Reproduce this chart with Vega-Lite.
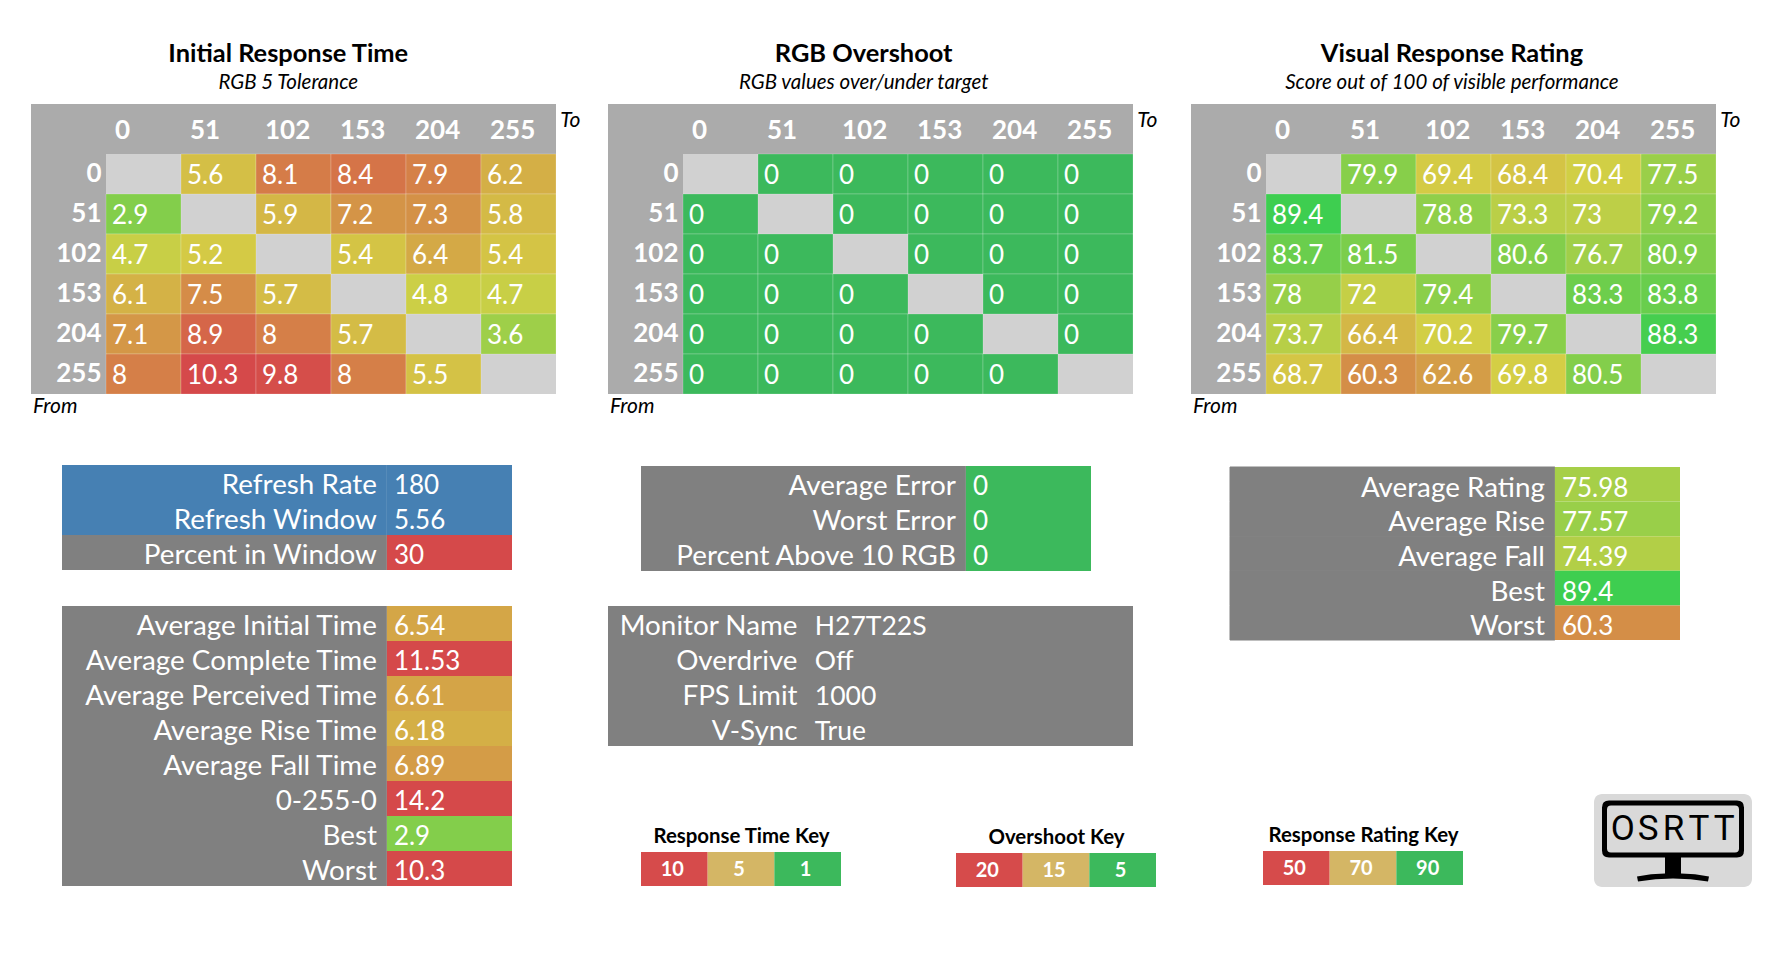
{"$schema":"https://vega.github.io/schema/vega-lite/v6.json","width":1784,"height":962,"padding":0,"autosize":{"type":"fit","contains":"padding"},"background":"#FFFFFF","config":{"view":{"stroke":null},"font":"Lato","text":{"font":"Lato"}},"datasets":{"rt":[{"from":"0","to":"0","v":null},{"from":"0","to":"51","v":5.6},{"from":"0","to":"102","v":8.1},{"from":"0","to":"153","v":8.4},{"from":"0","to":"204","v":7.9},{"from":"0","to":"255","v":6.2},{"from":"51","to":"0","v":2.9},{"from":"51","to":"51","v":null},{"from":"51","to":"102","v":5.9},{"from":"51","to":"153","v":7.2},{"from":"51","to":"204","v":7.3},{"from":"51","to":"255","v":5.8},{"from":"102","to":"0","v":4.7},{"from":"102","to":"51","v":5.2},{"from":"102","to":"102","v":null},{"from":"102","to":"153","v":5.4},{"from":"102","to":"204","v":6.4},{"from":"102","to":"255","v":5.4},{"from":"153","to":"0","v":6.1},{"from":"153","to":"51","v":7.5},{"from":"153","to":"102","v":5.7},{"from":"153","to":"153","v":null},{"from":"153","to":"204","v":4.8},{"from":"153","to":"255","v":4.7},{"from":"204","to":"0","v":7.1},{"from":"204","to":"51","v":8.9},{"from":"204","to":"102","v":8},{"from":"204","to":"153","v":5.7},{"from":"204","to":"204","v":null},{"from":"204","to":"255","v":3.6},{"from":"255","to":"0","v":8},{"from":"255","to":"51","v":10.3},{"from":"255","to":"102","v":9.8},{"from":"255","to":"153","v":8},{"from":"255","to":"204","v":5.5},{"from":"255","to":"255","v":null}],"os":[{"from":"0","to":"0","v":null},{"from":"0","to":"51","v":0},{"from":"0","to":"102","v":0},{"from":"0","to":"153","v":0},{"from":"0","to":"204","v":0},{"from":"0","to":"255","v":0},{"from":"51","to":"0","v":0},{"from":"51","to":"51","v":null},{"from":"51","to":"102","v":0},{"from":"51","to":"153","v":0},{"from":"51","to":"204","v":0},{"from":"51","to":"255","v":0},{"from":"102","to":"0","v":0},{"from":"102","to":"51","v":0},{"from":"102","to":"102","v":null},{"from":"102","to":"153","v":0},{"from":"102","to":"204","v":0},{"from":"102","to":"255","v":0},{"from":"153","to":"0","v":0},{"from":"153","to":"51","v":0},{"from":"153","to":"102","v":0},{"from":"153","to":"153","v":null},{"from":"153","to":"204","v":0},{"from":"153","to":"255","v":0},{"from":"204","to":"0","v":0},{"from":"204","to":"51","v":0},{"from":"204","to":"102","v":0},{"from":"204","to":"153","v":0},{"from":"204","to":"204","v":null},{"from":"204","to":"255","v":0},{"from":"255","to":"0","v":0},{"from":"255","to":"51","v":0},{"from":"255","to":"102","v":0},{"from":"255","to":"153","v":0},{"from":"255","to":"204","v":0},{"from":"255","to":"255","v":null}],"vr":[{"from":"0","to":"0","v":null},{"from":"0","to":"51","v":79.9},{"from":"0","to":"102","v":69.4},{"from":"0","to":"153","v":68.4},{"from":"0","to":"204","v":70.4},{"from":"0","to":"255","v":77.5},{"from":"51","to":"0","v":89.4},{"from":"51","to":"51","v":null},{"from":"51","to":"102","v":78.8},{"from":"51","to":"153","v":73.3},{"from":"51","to":"204","v":73},{"from":"51","to":"255","v":79.2},{"from":"102","to":"0","v":83.7},{"from":"102","to":"51","v":81.5},{"from":"102","to":"102","v":null},{"from":"102","to":"153","v":80.6},{"from":"102","to":"204","v":76.7},{"from":"102","to":"255","v":80.9},{"from":"153","to":"0","v":78},{"from":"153","to":"51","v":72},{"from":"153","to":"102","v":79.4},{"from":"153","to":"153","v":null},{"from":"153","to":"204","v":83.3},{"from":"153","to":"255","v":83.8},{"from":"204","to":"0","v":73.7},{"from":"204","to":"51","v":66.4},{"from":"204","to":"102","v":70.2},{"from":"204","to":"153","v":79.7},{"from":"204","to":"204","v":null},{"from":"204","to":"255","v":88.3},{"from":"255","to":"0","v":68.7},{"from":"255","to":"51","v":60.3},{"from":"255","to":"102","v":62.6},{"from":"255","to":"153","v":69.8},{"from":"255","to":"204","v":80.5},{"from":"255","to":"255","v":null}],"keys":[{"key":"Response Time Key","level":"10","grade":"bad"},{"key":"Response Time Key","level":"5","grade":"mid"},{"key":"Response Time Key","level":"1","grade":"good"},{"key":"Overshoot Key","level":"20","grade":"bad"},{"key":"Overshoot Key","level":"15","grade":"mid"},{"key":"Overshoot Key","level":"5","grade":"good"},{"key":"Response Rating Key","level":"50","grade":"bad"},{"key":"Response Rating Key","level":"70","grade":"mid"},{"key":"Response Rating Key","level":"90","grade":"good"}]},"resolve":{"scale":{"x":"independent","y":"independent","color":"independent"},"axis":{"x":"independent","y":"independent"}},"layer":[
{"data":{"values":[{"title":"Initial Response Time","sub":"RGB 5 Tolerance"}]},"layer":[
{"mark":{"type":"rect","fill":"#ABABAB"},"encoding":{"x":{"datum":0,"type":"quantitative","scale":{"domain":[0,1],"range":[31,556],"nice":false,"zero":false},"axis":null},"x2":{"datum":1},"y":{"datum":0,"type":"quantitative","scale":{"domain":[0,1],"range":[104,394],"nice":false,"zero":false},"axis":null},"y2":{"datum":1}}},
{"mark":{"type":"text","fontSize":25.4,"fontWeight":"bold","color":"#000000"},"encoding":{"text":{"field":"title"},"x":{"datum":0.49,"type":"quantitative","axis":null},"y":{"datum":-0.174,"type":"quantitative","axis":null}}},
{"mark":{"type":"text","fontSize":20.5,"fontStyle":"italic","color":"#000000"},"encoding":{"text":{"field":"sub"},"x":{"datum":0.49,"type":"quantitative","axis":null},"y":{"datum":-0.072,"type":"quantitative","axis":null}}},
{"mark":{"type":"text","fontSize":21,"fontStyle":"italic","align":"left","color":"#000000"},"encoding":{"text":{"datum":"To"},"x":{"datum":1.008,"type":"quantitative","axis":null},"y":{"datum":0.058,"type":"quantitative","axis":null}}},
{"mark":{"type":"text","fontSize":21,"fontStyle":"italic","align":"left","color":"#000000"},"encoding":{"text":{"datum":"From"},"x":{"datum":0.004,"type":"quantitative","axis":null},"y":{"datum":1.045,"type":"quantitative","axis":null}}}
]},
{"data":{"name":"rt"},"encoding":{"x":{"field":"to","type":"ordinal","scale":{"domain":["0","51","102","153","204","255"],"range":[106,556],"paddingInner":0,"paddingOuter":0},"axis":{"orient":"top","offset":-130,"title":null,"domain":false,"ticks":false,"labelAngle":0,"labelAlign":"left","labelBaseline":"middle","labelPadding":0,"labelOffset":-28.5,"labelColor":"#FFFFFF","labelFont":"Lato","labelFontWeight":"bold","labelFontSize":26}},"y":{"field":"from","type":"ordinal","scale":{"domain":["0","51","102","153","204","255"],"range":[154,394],"paddingInner":0,"paddingOuter":0},"axis":{"orient":"left","offset":-101,"title":null,"domain":false,"ticks":false,"labelAlign":"right","labelBaseline":"middle","labelPadding":0,"labelColor":"#FFFFFF","labelFont":"Lato","labelFontWeight":"bold","labelFontSize":26}}},"layer":[
{"transform":[{"filter":"datum.v === null"}],"mark":{"type":"rect","fill":"#D1D1D1"}},
{"transform":[{"filter":"datum.v !== null"}],"mark":{"type":"rect","stroke":"#FFFFFF","strokeOpacity":0.2,"strokeWidth":1},"encoding":{"color":{"field":"v","type":"quantitative","scale":{"domain":[1,5,10],"range":["#39CE50","#D4CF45","#D5494A"],"interpolate":"rgb","clamp":true},"legend":null}}},
{"transform":[{"filter":"datum.v !== null"}],"mark":{"type":"text","align":"left","dx":6,"dy":2,"fontSize":26,"color":"#FFFFFF"},"encoding":{"x":{"field":"to","type":"ordinal","bandPosition":0},"text":{"field":"v","type":"nominal"}}}
]},
{"data":{"values":[{"title":"RGB Overshoot","sub":"RGB values over/under target"}]},"layer":[
{"mark":{"type":"rect","fill":"#ABABAB"},"encoding":{"x":{"datum":0,"type":"quantitative","scale":{"domain":[0,1],"range":[608,1133],"nice":false,"zero":false},"axis":null},"x2":{"datum":1},"y":{"datum":0,"type":"quantitative","scale":{"domain":[0,1],"range":[104,394],"nice":false,"zero":false},"axis":null},"y2":{"datum":1}}},
{"mark":{"type":"text","fontSize":25.4,"fontWeight":"bold","color":"#000000"},"encoding":{"text":{"field":"title"},"x":{"datum":0.487,"type":"quantitative","axis":null},"y":{"datum":-0.174,"type":"quantitative","axis":null}}},
{"mark":{"type":"text","fontSize":20.5,"fontStyle":"italic","color":"#000000"},"encoding":{"text":{"field":"sub"},"x":{"datum":0.487,"type":"quantitative","axis":null},"y":{"datum":-0.072,"type":"quantitative","axis":null}}},
{"mark":{"type":"text","fontSize":21,"fontStyle":"italic","align":"left","color":"#000000"},"encoding":{"text":{"datum":"To"},"x":{"datum":1.008,"type":"quantitative","axis":null},"y":{"datum":0.058,"type":"quantitative","axis":null}}},
{"mark":{"type":"text","fontSize":21,"fontStyle":"italic","align":"left","color":"#000000"},"encoding":{"text":{"datum":"From"},"x":{"datum":0.004,"type":"quantitative","axis":null},"y":{"datum":1.045,"type":"quantitative","axis":null}}}
]},
{"data":{"name":"os"},"encoding":{"x":{"field":"to","type":"ordinal","scale":{"domain":["0","51","102","153","204","255"],"range":[683,1133],"paddingInner":0,"paddingOuter":0},"axis":{"orient":"top","offset":-130,"title":null,"domain":false,"ticks":false,"labelAngle":0,"labelAlign":"left","labelBaseline":"middle","labelPadding":0,"labelOffset":-28.5,"labelColor":"#FFFFFF","labelFont":"Lato","labelFontWeight":"bold","labelFontSize":26}},"y":{"field":"from","type":"ordinal","scale":{"domain":["0","51","102","153","204","255"],"range":[154,394],"paddingInner":0,"paddingOuter":0},"axis":{"orient":"left","offset":-678,"title":null,"domain":false,"ticks":false,"labelAlign":"right","labelBaseline":"middle","labelPadding":0,"labelColor":"#FFFFFF","labelFont":"Lato","labelFontWeight":"bold","labelFontSize":26}}},"layer":[
{"transform":[{"filter":"datum.v === null"}],"mark":{"type":"rect","fill":"#D1D1D1"}},
{"transform":[{"filter":"datum.v !== null"}],"mark":{"type":"rect","stroke":"#FFFFFF","strokeOpacity":0.2,"strokeWidth":1},"encoding":{"color":{"field":"v","type":"quantitative","scale":{"domain":[5,15,20],"range":["#3CB95C","#D4B665","#D5494A"],"interpolate":"rgb","clamp":true},"legend":null}}},
{"transform":[{"filter":"datum.v !== null"}],"mark":{"type":"text","align":"left","dx":6,"dy":2,"fontSize":26,"color":"#FFFFFF"},"encoding":{"x":{"field":"to","type":"ordinal","bandPosition":0},"text":{"field":"v","type":"nominal"}}}
]},
{"data":{"values":[{"title":"Visual Response Rating","sub":"Score out of 100 of visible performance"}]},"layer":[
{"mark":{"type":"rect","fill":"#ABABAB"},"encoding":{"x":{"datum":0,"type":"quantitative","scale":{"domain":[0,1],"range":[1191,1716],"nice":false,"zero":false},"axis":null},"x2":{"datum":1},"y":{"datum":0,"type":"quantitative","scale":{"domain":[0,1],"range":[104,394],"nice":false,"zero":false},"axis":null},"y2":{"datum":1}}},
{"mark":{"type":"text","fontSize":25.4,"fontWeight":"bold","color":"#000000"},"encoding":{"text":{"field":"title"},"x":{"datum":0.497,"type":"quantitative","axis":null},"y":{"datum":-0.174,"type":"quantitative","axis":null}}},
{"mark":{"type":"text","fontSize":20.5,"fontStyle":"italic","color":"#000000"},"encoding":{"text":{"field":"sub"},"x":{"datum":0.497,"type":"quantitative","axis":null},"y":{"datum":-0.072,"type":"quantitative","axis":null}}},
{"mark":{"type":"text","fontSize":21,"fontStyle":"italic","align":"left","color":"#000000"},"encoding":{"text":{"datum":"To"},"x":{"datum":1.008,"type":"quantitative","axis":null},"y":{"datum":0.058,"type":"quantitative","axis":null}}},
{"mark":{"type":"text","fontSize":21,"fontStyle":"italic","align":"left","color":"#000000"},"encoding":{"text":{"datum":"From"},"x":{"datum":0.004,"type":"quantitative","axis":null},"y":{"datum":1.045,"type":"quantitative","axis":null}}}
]},
{"data":{"name":"vr"},"encoding":{"x":{"field":"to","type":"ordinal","scale":{"domain":["0","51","102","153","204","255"],"range":[1266,1716],"paddingInner":0,"paddingOuter":0},"axis":{"orient":"top","offset":-130,"title":null,"domain":false,"ticks":false,"labelAngle":0,"labelAlign":"left","labelBaseline":"middle","labelPadding":0,"labelOffset":-28.5,"labelColor":"#FFFFFF","labelFont":"Lato","labelFontWeight":"bold","labelFontSize":26}},"y":{"field":"from","type":"ordinal","scale":{"domain":["0","51","102","153","204","255"],"range":[154,394],"paddingInner":0,"paddingOuter":0},"axis":{"orient":"left","offset":-1261,"title":null,"domain":false,"ticks":false,"labelAlign":"right","labelBaseline":"middle","labelPadding":0,"labelColor":"#FFFFFF","labelFont":"Lato","labelFontWeight":"bold","labelFontSize":26}}},"layer":[
{"transform":[{"filter":"datum.v === null"}],"mark":{"type":"rect","fill":"#D1D1D1"}},
{"transform":[{"filter":"datum.v !== null"}],"mark":{"type":"rect","stroke":"#FFFFFF","strokeOpacity":0.2,"strokeWidth":1},"encoding":{"color":{"field":"v","type":"quantitative","scale":{"domain":[50,70,90],"range":["#D5494A","#D4CF45","#39CE50"],"interpolate":"rgb","clamp":true},"legend":null}}},
{"transform":[{"filter":"datum.v !== null"}],"mark":{"type":"text","align":"left","dx":6,"dy":2,"fontSize":26,"color":"#FFFFFF"},"encoding":{"x":{"field":"to","type":"ordinal","bandPosition":0},"text":{"field":"v","type":"nominal"}}}
]},
{"data":{"values":[{"metric":"Refresh Rate","value":180,"kind":"refresh"},{"metric":"Refresh Window","value":5.56,"kind":"refresh"},{"metric":"Percent in Window","value":30,"kind":"score"}]},"encoding":{"y":{"field":"metric","type":"nominal","sort":null,"scale":{"range":[465,570],"paddingInner":0,"paddingOuter":0},"axis":null}},"layer":[
{"mark":{"type":"rect"},"encoding":{"x":{"datum":0,"type":"quantitative","scale":{"domain":[0,1],"range":[62,512],"nice":false,"zero":false},"axis":null},"x2":{"datum":0.722},"fill":{"condition":{"test":"datum.kind === 'refresh'","value":"#4680B3"},"value":"#808080"}}},
{"mark":{"type":"rect"},"encoding":{"x":{"datum":0.722,"type":"quantitative","axis":null},"x2":{"datum":1},"fill":{"condition":{"test":"datum.kind === 'refresh'","value":"#4680B3"},"field":"value","type":"quantitative","scale":{"domain":[50,70,90],"range":["#D5494A","#D4CF45","#39CE50"],"interpolate":"rgb","clamp":true},"legend":null}}},
{"mark":{"type":"text","align":"right","dx":-10,"dy":3.5,"fontSize":27.8,"color":"#FFFFFF"},"encoding":{"x":{"datum":0.722,"type":"quantitative","axis":null},"text":{"field":"metric"}}},
{"mark":{"type":"text","align":"left","dx":7,"dy":3.5,"fontSize":26,"color":"#FFFFFF"},"encoding":{"x":{"datum":0.722,"type":"quantitative","axis":null},"text":{"field":"value","type":"nominal"}}}
]},
{"data":{"values":[{"metric":"Average Initial Time","value":6.54},{"metric":"Average Complete Time","value":11.53},{"metric":"Average Perceived Time","value":6.61},{"metric":"Average Rise Time","value":6.18},{"metric":"Average Fall Time","value":6.89},{"metric":"0-255-0","value":14.2},{"metric":"Best","value":2.9},{"metric":"Worst","value":10.3}]},"encoding":{"y":{"field":"metric","type":"nominal","sort":null,"scale":{"range":[606,886],"paddingInner":0,"paddingOuter":0},"axis":null}},"layer":[
{"mark":{"type":"rect","fill":"#808080"},"encoding":{"x":{"datum":0,"type":"quantitative","scale":{"domain":[0,1],"range":[62,512],"nice":false,"zero":false},"axis":null},"x2":{"datum":0.722}}},
{"mark":{"type":"rect"},"encoding":{"x":{"datum":0.722,"type":"quantitative","axis":null},"x2":{"datum":1},"fill":{"field":"value","type":"quantitative","scale":{"domain":[1,5,10],"range":["#39CE50","#D4CF45","#D5494A"],"interpolate":"rgb","clamp":true},"legend":null}}},
{"mark":{"type":"text","align":"right","dx":-10,"dy":3.5,"fontSize":27.8,"color":"#FFFFFF"},"encoding":{"x":{"datum":0.722,"type":"quantitative","axis":null},"text":{"field":"metric"}}},
{"mark":{"type":"text","align":"left","dx":7,"dy":3.5,"fontSize":26,"color":"#FFFFFF"},"encoding":{"x":{"datum":0.722,"type":"quantitative","axis":null},"text":{"field":"value","type":"nominal"}}}
]},
{"data":{"values":[{"metric":"Average Error","value":0},{"metric":"Worst Error","value":0},{"metric":"Percent Above 10 RGB","value":0}]},"encoding":{"y":{"field":"metric","type":"nominal","sort":null,"scale":{"range":[466,571],"paddingInner":0,"paddingOuter":0},"axis":null}},"layer":[
{"mark":{"type":"rect","fill":"#808080"},"encoding":{"x":{"datum":0,"type":"quantitative","scale":{"domain":[0,1],"range":[641,1091],"nice":false,"zero":false},"axis":null},"x2":{"datum":0.722}}},
{"mark":{"type":"rect"},"encoding":{"x":{"datum":0.722,"type":"quantitative","axis":null},"x2":{"datum":1},"fill":{"field":"value","type":"quantitative","scale":{"domain":[5,15,20],"range":["#3CB95C","#D4B665","#D5494A"],"interpolate":"rgb","clamp":true},"legend":null}}},
{"mark":{"type":"text","align":"right","dx":-10,"dy":3.5,"fontSize":27.8,"color":"#FFFFFF"},"encoding":{"x":{"datum":0.722,"type":"quantitative","axis":null},"text":{"field":"metric"}}},
{"mark":{"type":"text","align":"left","dx":7,"dy":3.5,"fontSize":26,"color":"#FFFFFF"},"encoding":{"x":{"datum":0.722,"type":"quantitative","axis":null},"text":{"field":"value","type":"nominal"}}}
]},
{"data":{"values":[{"setting":"Monitor Name","value":"H27T22S"},{"setting":"Overdrive","value":"Off"},{"setting":"FPS Limit","value":"1000"},{"setting":"V-Sync","value":"True"}]},"encoding":{"y":{"field":"setting","type":"nominal","sort":null,"scale":{"range":[606,746],"paddingInner":0,"paddingOuter":0},"axis":null}},"layer":[
{"mark":{"type":"rect","fill":"#808080"},"encoding":{"x":{"datum":0,"type":"quantitative","scale":{"domain":[0,1],"range":[608,1133],"nice":false,"zero":false},"axis":null},"x2":{"datum":1}}},
{"mark":{"type":"text","align":"right","dy":3.5,"fontSize":27.8,"color":"#FFFFFF"},"encoding":{"x":{"datum":0.361,"type":"quantitative","axis":null},"text":{"field":"setting"}}},
{"mark":{"type":"text","align":"left","dy":3.5,"fontSize":26.5,"color":"#FFFFFF"},"encoding":{"x":{"datum":0.394,"type":"quantitative","axis":null},"text":{"field":"value"}}}
]},
{"data":{"values":[{"metric":"Average Rating","value":75.98},{"metric":"Average Rise","value":77.57},{"metric":"Average Fall","value":74.39},{"metric":"Best","value":89.4},{"metric":"Worst","value":60.3}]},"encoding":{"y":{"field":"metric","type":"nominal","sort":null,"scale":{"range":[467,640],"paddingInner":0,"paddingOuter":0},"axis":null}},"layer":[
{"mark":{"type":"rect","fill":"#808080","stroke":"#808080","strokeWidth":1},"encoding":{"x":{"datum":0,"type":"quantitative","scale":{"domain":[0,1],"range":[1230,1680],"nice":false,"zero":false},"axis":null},"x2":{"datum":0.722}}},
{"mark":{"type":"rect"},"encoding":{"x":{"datum":0.722,"type":"quantitative","axis":null},"x2":{"datum":1},"fill":{"field":"value","type":"quantitative","scale":{"domain":[50,70,90],"range":["#D5494A","#D4CF45","#39CE50"],"interpolate":"rgb","clamp":true},"legend":null}}},
{"mark":{"type":"text","align":"right","dx":-10,"dy":4.5,"fontSize":27.8,"color":"#FFFFFF"},"encoding":{"x":{"datum":0.722,"type":"quantitative","axis":null},"text":{"field":"metric"}}},
{"mark":{"type":"text","align":"left","dx":7,"dy":4.5,"fontSize":26,"color":"#FFFFFF"},"encoding":{"x":{"datum":0.722,"type":"quantitative","axis":null},"text":{"field":"value","type":"nominal"}}}
]},
{"data":{"name":"keys"},"transform":[{"filter":"datum.key === 'Response Time Key'"}],"encoding":{"x":{"field":"level","type":"nominal","sort":null,"scale":{"range":[641,841],"paddingInner":0,"paddingOuter":0},"axis":{"orient":"top","offset":-852,"labels":false,"ticks":false,"domain":false,"title":"Response Time Key","titleFont":"Lato","titleFontWeight":"bold","titleFontSize":20.4,"titleColor":"#000000","titlePadding":6}},"y":{"field":"key","type":"nominal","scale":{"range":[852,886],"paddingInner":0,"paddingOuter":0},"axis":null}},"layer":[
{"mark":{"type":"rect"},"encoding":{"fill":{"field":"grade","type":"nominal","scale":{"domain":["bad","mid","good"],"range":["#D64B4B","#D4B665","#3CB95C"]},"legend":null}}},
{"mark":{"type":"text","dx":-2,"dy":1,"fontSize":20,"fontWeight":"bold","color":"#FFFFFF"},"encoding":{"text":{"field":"level"}}}
]},
{"data":{"name":"keys"},"transform":[{"filter":"datum.key === 'Overshoot Key'"}],"encoding":{"x":{"field":"level","type":"nominal","sort":null,"scale":{"range":[956,1156],"paddingInner":0,"paddingOuter":0},"axis":{"orient":"top","offset":-853,"labels":false,"ticks":false,"domain":false,"title":"Overshoot Key","titleFont":"Lato","titleFontWeight":"bold","titleFontSize":20.4,"titleColor":"#000000","titlePadding":6}},"y":{"field":"key","type":"nominal","scale":{"range":[853,887],"paddingInner":0,"paddingOuter":0},"axis":null}},"layer":[
{"mark":{"type":"rect"},"encoding":{"fill":{"field":"grade","type":"nominal","scale":{"domain":["bad","mid","good"],"range":["#D64B4B","#D4B665","#3CB95C"]},"legend":null}}},
{"mark":{"type":"text","dx":-2,"dy":1,"fontSize":20,"fontWeight":"bold","color":"#FFFFFF"},"encoding":{"text":{"field":"level"}}}
]},
{"data":{"name":"keys"},"transform":[{"filter":"datum.key === 'Response Rating Key'"}],"encoding":{"x":{"field":"level","type":"nominal","sort":null,"scale":{"range":[1263,1463],"paddingInner":0,"paddingOuter":0},"axis":{"orient":"top","offset":-851,"labels":false,"ticks":false,"domain":false,"title":"Response Rating Key","titleFont":"Lato","titleFontWeight":"bold","titleFontSize":20.4,"titleColor":"#000000","titlePadding":6}},"y":{"field":"key","type":"nominal","scale":{"range":[851,885],"paddingInner":0,"paddingOuter":0},"axis":null}},"layer":[
{"mark":{"type":"rect"},"encoding":{"fill":{"field":"grade","type":"nominal","scale":{"domain":["bad","mid","good"],"range":["#D64B4B","#D4B665","#3CB95C"]},"legend":null}}},
{"mark":{"type":"text","dx":-2,"dy":1,"fontSize":20,"fontWeight":"bold","color":"#FFFFFF"},"encoding":{"text":{"field":"level"}}}
]},
{"data":{"values":[{"brand":"OSRTT"}]},"layer":[
{"mark":{"type":"rect","fill":"#D9D9D9","cornerRadius":8},"encoding":{"x":{"datum":0,"type":"quantitative","scale":{"domain":[0,1],"range":[1594,1752],"nice":false,"zero":false},"axis":null},"x2":{"datum":1},"y":{"datum":0,"type":"quantitative","scale":{"domain":[0,1],"range":[794,887],"nice":false,"zero":false},"axis":null},"y2":{"datum":1}}},
{"mark":{"type":"point","filled":true,"opacity":1,"fill":"#000000","size":4,"shape":"M-64,-40 L64,-40 Q71,-40 71,-33 L71,10 Q71,17 64,17 L8,17 L8,33 Q22,33 36,36 L35,41 Q0,35 -35,41 L-36,36 Q-22,33 -8,33 L-8,17 L-64,17 Q-71,17 -71,10 L-71,-33 Q-71,-40 -64,-40 Z M-62,-35 Q-66,-35 -66,-31 L-66,8 Q-66,12 -62,12 L62,12 Q66,12 66,8 L66,-31 Q66,-35 62,-35 Z"},"encoding":{"x":{"datum":0.5,"type":"quantitative","axis":null},"y":{"datum":0.5,"type":"quantitative","axis":null}}}
]},
{"data":{"values":[{"letter":"O","slot":"a","brand":"OSRTT"},{"letter":"S","slot":"b","brand":"OSRTT"},{"letter":"R","slot":"c","brand":"OSRTT"},{"letter":"T","slot":"d","brand":"OSRTT"},{"letter":"T","slot":"e","brand":"OSRTT"}]},"mark":{"type":"text","font":"Roboto","fontSize":35,"color":"#000000"},"encoding":{"x":{"field":"slot","type":"nominal","sort":null,"scale":{"range":[1610,1737],"paddingInner":0,"paddingOuter":0},"axis":null},"y":{"field":"brand","type":"nominal","scale":{"range":[810,848],"paddingInner":0,"paddingOuter":0},"axis":null},"text":{"field":"letter"}}}
]}
